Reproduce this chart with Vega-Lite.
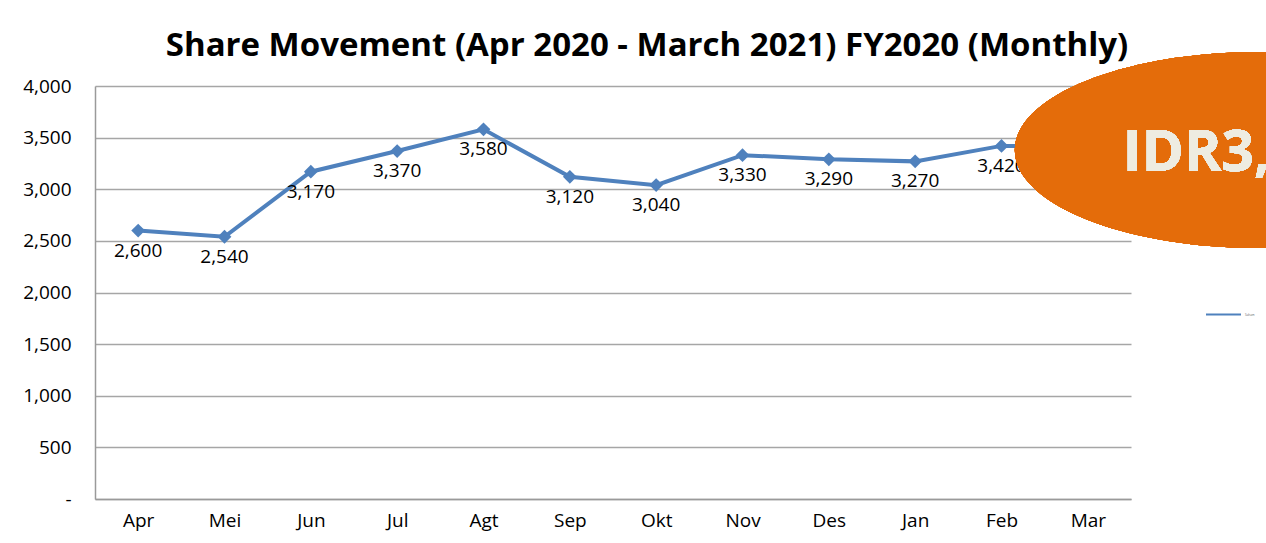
{
  "$schema": "https://vega.github.io/schema/vega-lite/v6.json",
  "autosize": {"type": "none"},
  "width": 1036,
  "height": 413,
  "padding": {"left": 95, "top": 86, "right": 135, "bottom": 44},
  "background": "white",
  "config": {
    "view": {"stroke": null},
    "font": "Open Sans",
    "axis": {"labelFont": "Open Sans", "labelFontSize": 19, "labelColor": "#000000", "domainColor": "#9A9A9A", "domainWidth": 1.5, "gridColor": "#A6A6A6", "gridWidth": 1.5, "ticks": false, "title": null}
  },
  "title": {
    "text": "Share Movement (Apr 2020 - March 2021) FY2020 (Monthly)",
    "font": "Open Sans",
    "fontSize": 33,
    "fontWeight": "bold",
    "color": "#000000",
    "anchor": "middle",
    "dx": 34,
    "offset": -11
  },
  "data": {
    "values": [
      {"month": "Apr", "price": 2600},
      {"month": "Mei", "price": 2540},
      {"month": "Jun", "price": 3170},
      {"month": "Jul", "price": 3370},
      {"month": "Agt", "price": 3580},
      {"month": "Sep", "price": 3120},
      {"month": "Okt", "price": 3040},
      {"month": "Nov", "price": 3330},
      {"month": "Des", "price": 3290},
      {"month": "Jan", "price": 3270},
      {"month": "Feb", "price": 3420},
      {"month": "Mar", "price": 3420}
    ]
  },
  "encoding": {
    "x": {
      "field": "month", "type": "ordinal",
      "sort": ["Apr","Mei","Jun","Jul","Agt","Sep","Okt","Nov","Des","Jan","Feb","Mar"],
      "axis": {"labelAngle": 0, "labelPadding": 12, "grid": false}
    },
    "y": {
      "field": "price", "type": "quantitative",
      "scale": {"domain": [0, 4000], "nice": false},
      "axis": {"values": [0,500,1000,1500,2000,2500,3000,3500,4000], "labelPadding": 24, "labelExpr": "datum.value == 0 ? '-' : format(datum.value, ',')", "grid": true}
    }
  },
  "layer": [
    {
      "mark": {"type": "line", "strokeWidth": 4, "color": "#4F81BD"},
      "encoding": {
        "color": {"datum": "Saham", "scale": {"range": ["#4F81BD"]},
          "legend": {"orient": "none", "legendX": 1110, "legendY": 210, "title": null, "symbolType": "stroke", "symbolStrokeWidth": 2, "symbolSize": 1225, "labelFontSize": 3, "labelColor": "#666666", "labelOffset": 3}}
      }
    },
    {
      "mark": {"type": "point", "shape": "diamond", "filled": true, "size": 190, "color": "#4F81BD", "opacity": 1}
    },
    {
      "mark": {"type": "text", "fontSize": 19, "font": "Open Sans", "color": "#000000", "dy": 20},
      "encoding": {"text": {"field": "price", "type": "quantitative", "format": ","}}
    },
    {
      "mark": {"type": "point", "shape": "M-0.73,0A2.45,0.98,0,1,0,4.17,0A2.45,0.98,0,1,0,-0.73,0Z", "size": 40000, "filled": true, "color": "#E46C0A", "opacity": 1, "strokeWidth": 0},
      "encoding": {"x": {"datum": "Mar", "type": "ordinal"}, "y": {"datum": 3380, "type": "quantitative"}}
    },
    {
      "mark": {"type": "text", "text": "IDR3,420", "fontSize": 57, "fontWeight": "bold", "font": "Open Sans", "color": "#EEECE1", "align": "left", "baseline": "alphabetic", "dx": 35, "dy": 21},
      "encoding": {"x": {"datum": "Mar", "type": "ordinal"}, "y": {"datum": 3380, "type": "quantitative"}}
    }
  ]
}
